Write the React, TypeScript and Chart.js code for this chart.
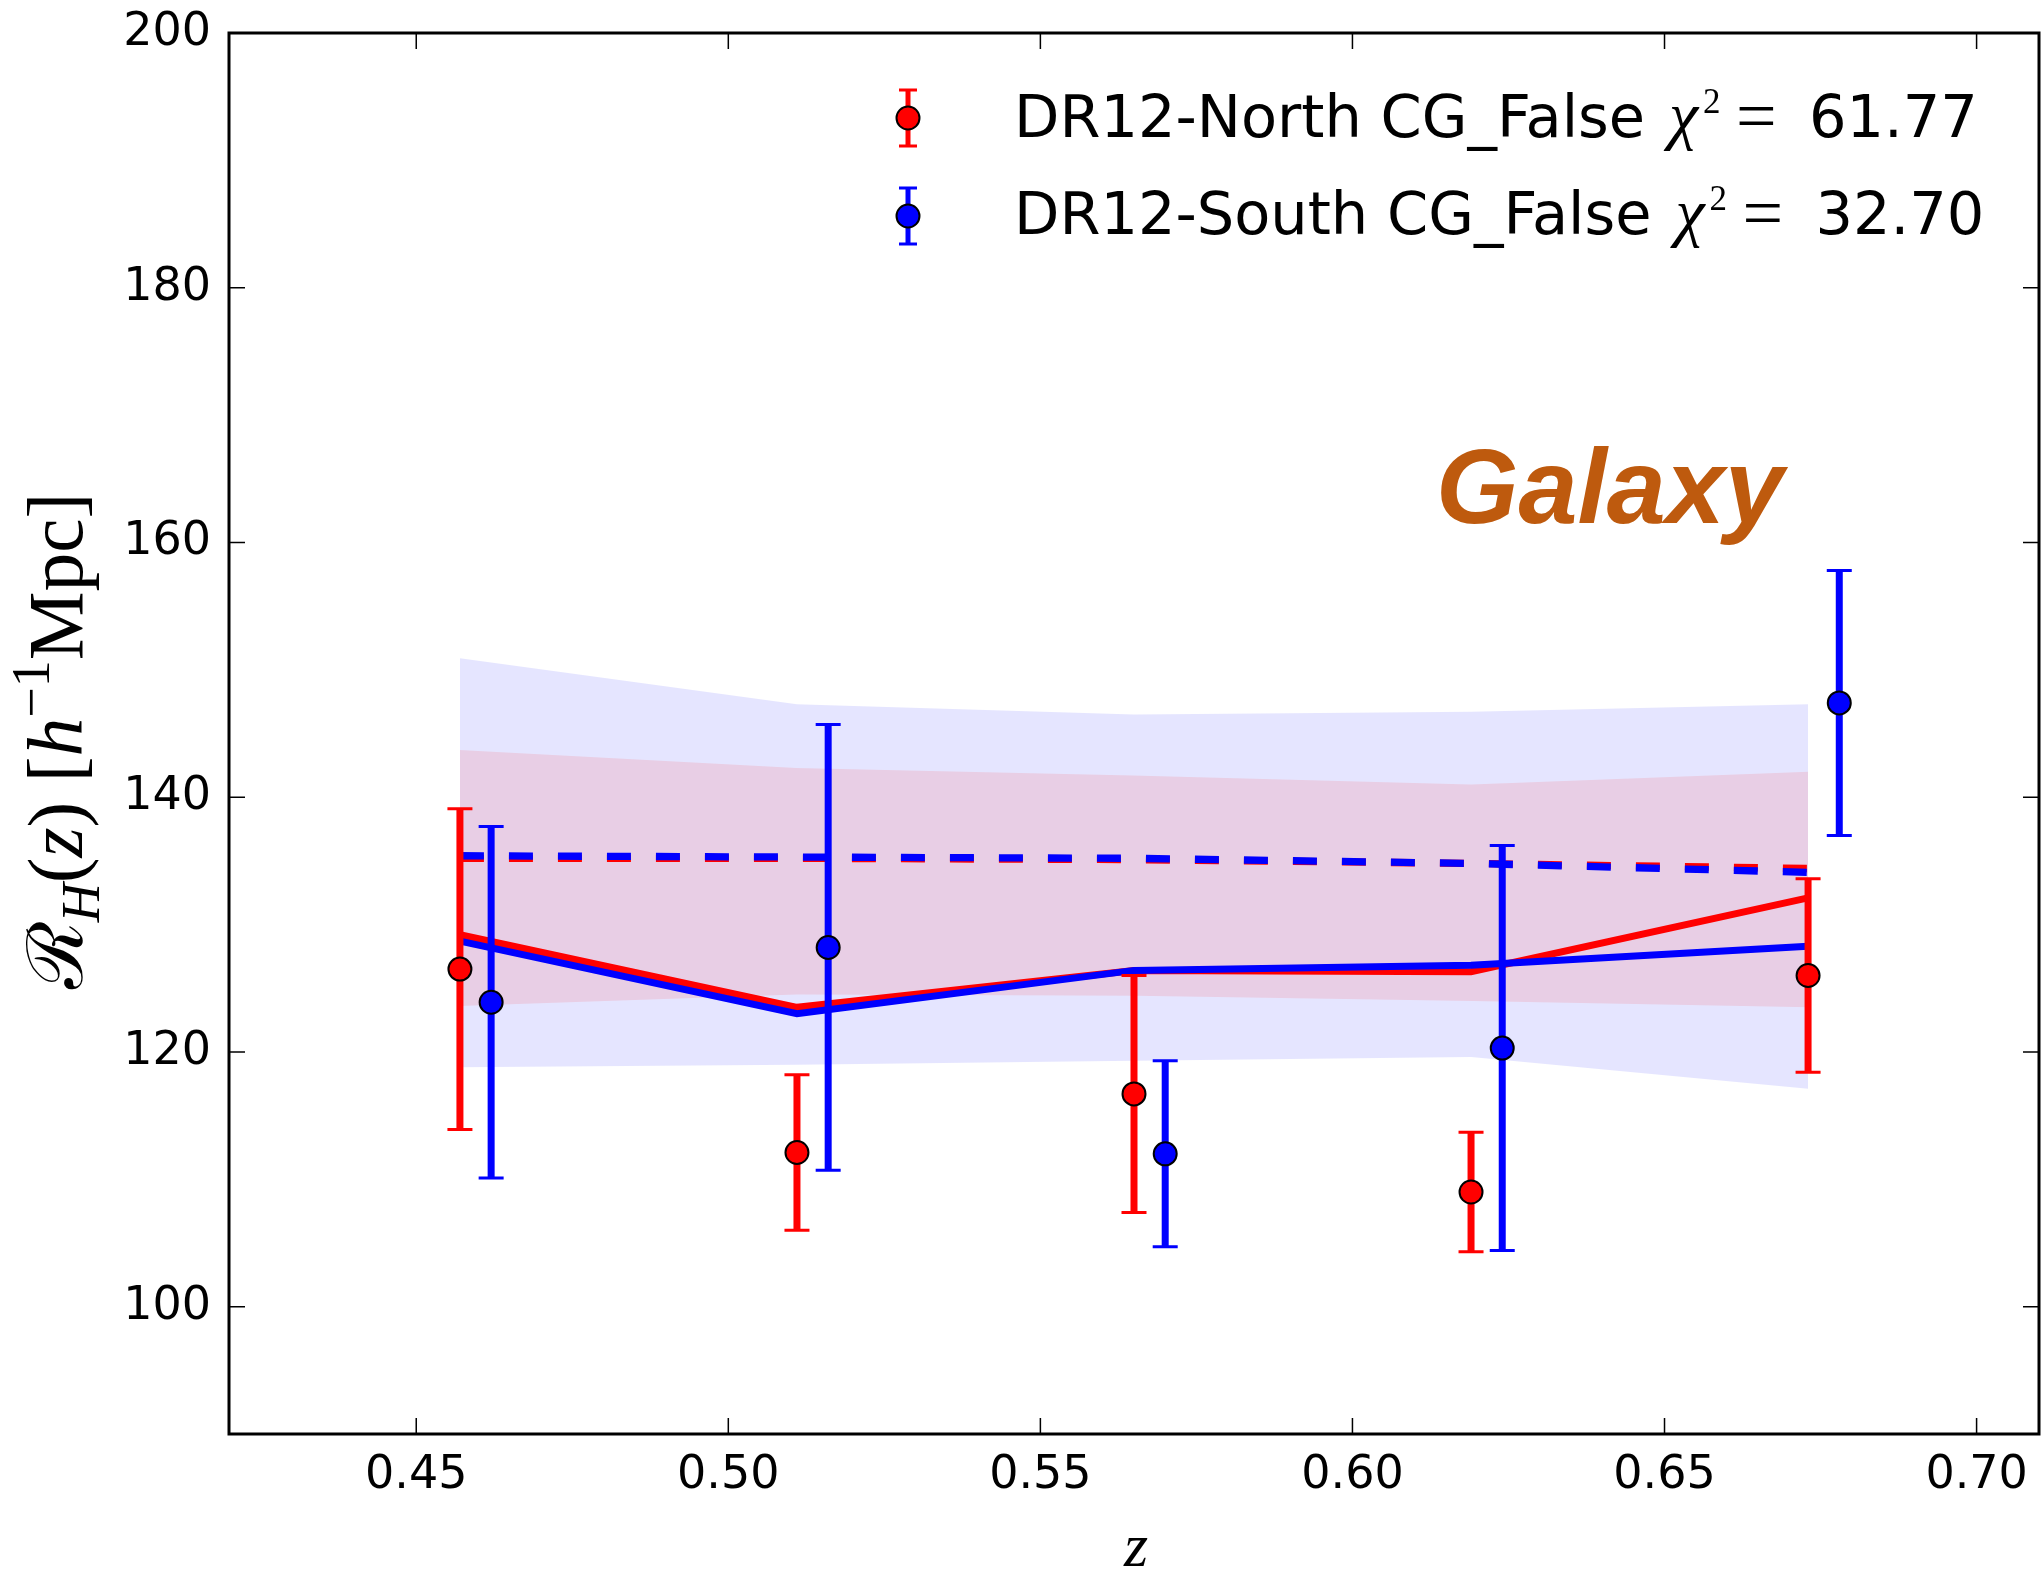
import React, { useEffect, useRef } from "react";
import { Chart, registerables } from "chart.js";

Chart.register(...registerables);

// ---------- data ----------
const zNorth = [0.457, 0.511, 0.565, 0.619, 0.673];
const zSouth = [0.462, 0.516, 0.57, 0.624, 0.678];
const northR = [126.5, 112.1, 116.7, 109.0, 126.0];
const northErr = [12.6, 6.1, 9.3, 4.7, 7.6];
const southR = [123.9, 128.2, 112.0, 120.3, 147.4];
const southErr = [13.8, 17.5, 7.3, 15.9, 10.4];

const zModel = [0.457, 0.511, 0.565, 0.619, 0.673];
const northModelSolid = [129.2, 123.5, 126.4, 126.3, 132.1];
const southModelSolid = [128.7, 123.0, 126.4, 126.8, 128.3];
const northModelDashed = [135.2, 135.2, 135.1, 134.8, 134.4];
const southModelDashed = [135.4, 135.3, 135.2, 134.8, 134.1];

const southBandUpper = [150.9, 147.3, 146.5, 146.7, 147.3];
const southBandLower = [118.8, 119.0, 119.3, 119.6, 117.1];
const northBandUpper = [143.7, 142.3, 141.7, 141.0, 142.0];
const northBandLower = [123.6, 124.5, 124.4, 124.0, 123.5];

const xTicks = [0.45, 0.5, 0.55, 0.6, 0.65, 0.7];
const yTicks = [100, 120, 140, 160, 180, 200];

const legendNames = ["DR12-North CG_False", "DR12-South CG_False"];
const legendChi2 = ["61.77", "32.70"];

const RED = "#ff0000";
const BLUE = "#0000ff";

const pts = (xs: number[], ys: number[]) => xs.map((x, i) => ({ x, y: ys[i] }));

type Seg = { text: string; font: string; dy?: number; gap?: number };

function drawRun(ctx: CanvasRenderingContext2D, segs: Seg[], x: number, y: number) {
  let cx = x;
  for (const s of segs) {
    ctx.font = s.font;
    ctx.fillText(s.text, cx, y + (s.dy || 0));
    cx += ctx.measureText(s.text).width + (s.gap || 0);
  }
  return cx - x;
}
function runWidth(ctx: CanvasRenderingContext2D, segs: Seg[]) {
  let w = 0;
  for (const s of segs) {
    ctx.font = s.font;
    w += ctx.measureText(s.text).width + (s.gap || 0);
  }
  return w;
}
// draw text so that its ink starts at inkX
function drawInk(ctx: CanvasRenderingContext2D, text: string, font: string, inkX: number, y: number) {
  ctx.font = font;
  const m = ctx.measureText(text);
  ctx.fillText(text, inkX + (m.actualBoundingBoxLeft || 0), y);
}

const errorBarPlugin = {
  id: "errbars",
  beforeDatasetDraw(chart: any, args: any) {
    const ds = chart.data.datasets[args.index];
    if (!ds.errors) return;
    const { ctx, scales } = chart;
    const xs = scales.x;
    const ys = scales.y;
    ctx.save();
    ctx.strokeStyle = ds.errColor;
    ds.data.forEach((p: any, i: number) => {
      const px = xs.getPixelForValue(p.x);
      const top = ys.getPixelForValue(p.y + ds.errors[i]);
      const bot = ys.getPixelForValue(p.y - ds.errors[i]);
      ctx.lineWidth = 7;
      ctx.beginPath();
      ctx.moveTo(px, top);
      ctx.lineTo(px, bot);
      ctx.stroke();
      ctx.lineWidth = 3;
      ctx.beginPath();
      ctx.moveTo(px - 12.5, top);
      ctx.lineTo(px + 12.5, top);
      ctx.moveTo(px - 12.5, bot);
      ctx.lineTo(px + 12.5, bot);
      ctx.stroke();
    });
    ctx.restore();
  },
};

const decorPlugin = {
  id: "decor",
  afterDraw(chart: any) {
    const { ctx, chartArea: a, scales } = chart;
    const xs = scales.x;
    const ys = scales.y;
    ctx.save();
    // ticks inside on all sides
    ctx.strokeStyle = "#000";
    ctx.lineWidth = 1.5;
    ctx.beginPath();
    for (const v of xTicks) {
      const px = xs.getPixelForValue(v);
      ctx.moveTo(px, a.bottom);
      ctx.lineTo(px, a.bottom - 16);
      ctx.moveTo(px, a.top);
      ctx.lineTo(px, a.top + 16);
    }
    for (const v of yTicks) {
      const py = ys.getPixelForValue(v);
      ctx.moveTo(a.left, py);
      ctx.lineTo(a.left + 16, py);
      ctx.moveTo(a.right, py);
      ctx.lineTo(a.right - 16, py);
    }
    ctx.stroke();
    // frame
    ctx.lineWidth = 3;
    ctx.strokeRect(a.left, a.top, a.right - a.left, a.bottom - a.top);

    // legend
    const lx = 908;
    const rowsY = [118, 216];
    const baselines = [137, 234];
    const colors = [RED, BLUE];
    const sans = '59px "DejaVu Sans"';
    ctx.font = sans;
    const w0 = ctx.measureText(legendNames[0]).width;
    for (let r = 0; r < 2; r++) {
      const cy = rowsY[r];
      ctx.strokeStyle = colors[r];
      ctx.lineWidth = 5;
      ctx.beginPath();
      ctx.moveTo(lx, cy - 28);
      ctx.lineTo(lx, cy + 28);
      ctx.stroke();
      ctx.lineWidth = 3;
      ctx.beginPath();
      ctx.moveTo(lx - 9, cy - 28);
      ctx.lineTo(lx + 9, cy - 28);
      ctx.moveTo(lx - 9, cy + 28);
      ctx.lineTo(lx + 9, cy + 28);
      ctx.stroke();
      ctx.beginPath();
      ctx.arc(lx, cy, 11.5, 0, Math.PI * 2);
      ctx.fillStyle = colors[r];
      ctx.fill();
      ctx.lineWidth = 2;
      ctx.strokeStyle = "#000";
      ctx.stroke();

      ctx.fillStyle = "#000";
      ctx.textBaseline = "alphabetic";
      ctx.textAlign = "left";
      const base = baselines[r];
      drawInk(ctx, legendNames[r], sans, 1019, base);
      ctx.font = sans;
      const wr = ctx.measureText(legendNames[r]).width;
      const anchor = 1663 + (wr - w0);
      drawInk(ctx, "χ", 'italic 66px "Liberation Serif"', anchor, base);
      drawInk(ctx, "2", '35px "Liberation Serif"', anchor + 41, base - 24);
      drawInk(ctx, "=", '72px "Liberation Serif"', anchor + 76, base + 3);
      drawInk(ctx, legendChi2[r], sans, anchor + 150, base);
    }

    // Galaxy annotation
    ctx.fillStyle = "#be5a0e";
    ctx.font = 'italic bold 106px "Liberation Sans"';
    ctx.textAlign = "left";
    ctx.textBaseline = "alphabetic";
    ctx.fillText("Galaxy", 1436, 523);

    // x label
    ctx.fillStyle = "#000";
    ctx.font = 'italic 62px "Liberation Serif"';
    ctx.textAlign = "center";
    ctx.fillText("z", 1136, 1566);

    // y label (rotated)
    const F = 60;
    const mk = (f: number) => {
      const serifF = `${f}px "Liberation Serif"`;
      const serifIF = `italic ${f}px "Liberation Serif"`;
      const small = `${Math.round(f * 0.7)}px "Liberation Serif"`;
      const smallI = `italic ${Math.round(f * 0.7)}px "Liberation Serif"`;
      return [
        { text: "ℛ", font: `${f}px "DejaVu Serif"` },
        { text: "H", font: smallI, dy: f * 0.22 },
        { text: "(", font: serifF },
        { text: "z", font: serifIF },
        { text: ")", font: serifF },
        { text: " [", font: serifF },
        { text: "h", font: serifIF },
        { text: "−1", font: small, dy: -f * 0.42 },
        { text: "Mpc]", font: serifF },
      ] as Seg[];
    };
    let segs = mk(F);
    const wy0 = runWidth(ctx, segs);
    const F2 = (F * 497) / wy0;
    segs = mk(F2);
    const w = runWidth(ctx, segs);
    ctx.save();
    ctx.translate(82, 741);
    ctx.rotate(-Math.PI / 2);
    ctx.textAlign = "left";
    ctx.textBaseline = "alphabetic";
    drawRun(ctx, segs, -w / 2, 0);
    ctx.restore();

    ctx.restore();
  },
};

export default function App() {
  const ref = useRef<HTMLCanvasElement | null>(null);
  useEffect(() => {
    if (!ref.current) return;
    const tickFont = { family: "DejaVu Sans", size: 46 };
    const lineDs = (label: string, ys: number[], color: string, dashed: boolean, order: number) => ({
      type: "line" as const,
      label,
      data: pts(zModel, ys),
      borderColor: color,
      borderWidth: dashed ? 7.3 : 7,
      borderDash: dashed ? [24, 25] : [],
      borderCapStyle: "butt",
      pointRadius: 0,
      fill: false,
      tension: 0,
      order,
    });
    const band = (label: string, ys: number[], fillColor: string | null, order: number) => ({
      type: "line" as const,
      label,
      data: pts(zModel, ys),
      borderWidth: 0,
      borderColor: "rgba(0,0,0,0)",
      backgroundColor: fillColor || "rgba(0,0,0,0)",
      pointRadius: 0,
      fill: fillColor ? "+1" : false,
      tension: 0,
      order,
    });
    const chart = new Chart(ref.current, {
      type: "line",
      data: {
        datasets: [
          {
            type: "scatter",
            label: "DR12-South",
            data: pts(zSouth, southR),
            backgroundColor: BLUE,
            borderColor: "#000",
            borderWidth: 2,
            pointRadius: 11.5,
            errors: southErr,
            errColor: BLUE,
            order: 0,
          } as any,
          {
            type: "scatter",
            label: "DR12-North",
            data: pts(zNorth, northR),
            backgroundColor: RED,
            borderColor: "#000",
            borderWidth: 2,
            pointRadius: 11.5,
            errors: northErr,
            errColor: RED,
            order: 1,
          } as any,
          lineDs("south solid", southModelSolid, BLUE, false, 2),
          lineDs("north solid", northModelSolid, RED, false, 3),
          lineDs("south dashed", southModelDashed, BLUE, true, 4),
          lineDs("north dashed", northModelDashed, RED, true, 5),
          band("north band upper", northBandUpper, "rgba(255,0,0,0.1)", 6),
          band("north band lower", northBandLower, null, 7),
          band("south band upper", southBandUpper, "rgba(0,0,255,0.1)", 8),
          band("south band lower", southBandLower, null, 9),
        ],
      },
      options: {
        responsive: false,
        animation: false,
        devicePixelRatio: 1,
        layout: { autoPadding: false, padding: { top: 33, right: 3, left: 0, bottom: 0 } },
        plugins: {
          legend: { display: false },
          tooltip: { enabled: false },
        },
        scales: {
          x: {
            type: "linear",
            min: 0.42,
            max: 0.71,
            grid: { display: false, drawTicks: false },
            border: { display: false },
            ticks: {
              font: tickFont,
              color: "#000",
              padding: 14,
              autoSkip: false,
              maxRotation: 0,
              callback: (v: any) => Number(v).toFixed(2),
            },
            afterBuildTicks: (s: any) => {
              s.ticks = xTicks.map((v) => ({ value: v }));
            },
            afterFit: (s: any) => {
              s.height = 140;
              s.paddingLeft = 0;
              s.paddingRight = 0;
              s.paddingTop = 0;
              s.paddingBottom = 0;
            },
          },
          y: {
            type: "linear",
            min: 90,
            max: 200,
            grid: { display: false, drawTicks: false },
            border: { display: false },
            ticks: {
              font: tickFont,
              color: "#000",
              padding: 18,
              autoSkip: false,
              callback: (v: any) => String(Math.round(Number(v))),
            },
            afterBuildTicks: (s: any) => {
              s.ticks = yTicks.map((v) => ({ value: v }));
            },
            afterFit: (s: any) => {
              s.width = 229;
              s.paddingLeft = 0;
              s.paddingRight = 0;
              s.paddingTop = 0;
              s.paddingBottom = 0;
            },
          },
        },
      } as any,
      plugins: [errorBarPlugin, decorPlugin],
    });
    return () => chart.destroy();
  }, []);
  return (
    <div style={{ position: "fixed", left: 0, top: 0, width: 2042, height: 1574, background: "#fff" }}>
      <canvas ref={ref} width={2042} height={1574} style={{ display: "block" }} />
    </div>
  );
}
